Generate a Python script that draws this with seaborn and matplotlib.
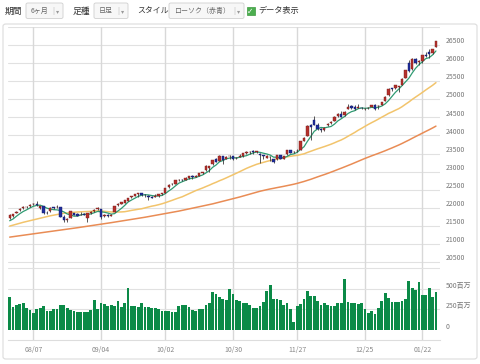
# %%
import numpy as np
import pandas as pd
import seaborn as sns
import matplotlib
matplotlib.use("Agg")
from matplotlib import pyplot as plt
from matplotlib.patches import FancyBboxPatch, Rectangle

# %% data (daily candles, 2017-07-27 .. 2018-01-26)
holidays = ["2017-09-04", "2017-11-23", "2017-12-25", "2018-01-01", "2018-01-15"]
dates = pd.bdate_range("2017-07-27", "2018-01-26")
dates = dates[~dates.isin(pd.to_datetime(holidays))]

opens = [
    21720, 21770, 21860, 21930, 21990, 22010, 22040, 22100, 22110, 21990,
    22040, 21870, 21900, 22010, 22010, 22010, 21740, 21670, 21720, 21860,
    21830, 21800, 21820, 21720, 21860, 21900, 21960, 21960, 21780, 21810,
    21780, 21890, 22080, 22110, 22140, 22200, 22290, 22340, 22380, 22400,
    22350, 22330, 22310, 22300, 22330, 22380, 22420, 22570, 22650, 22670,
    22760, 22780, 22780, 22830, 22870, 22850, 22880, 22960, 23040, 23110,
    23200, 23350, 23300, 23420, 23350, 23420, 23430, 23370, 23410, 23440,
    23520, 23540, 23570, 23540, 23500, 23450, 23390, 23400, 23340, 23340,
    23450, 23360, 23480, 23590, 23530, 23560, 23610, 23850, 23990, 24300,
    24420, 24300, 24170, 24150, 24280, 24340, 24400, 24530, 24600, 24560,
    24740, 24810, 24800, 24760, 24770, 24720, 24760, 24790, 24850, 24810,
    24850, 24960, 25110, 25310, 25310, 25330, 25400, 25600, 26000, 25830,
    26120, 26040, 26060, 26230, 26300, 26280, 26460,
]
highs = [
    21830, 21840, 21920, 21990, 22040, 22040, 22100, 22120, 22180, 22060,
    22050, 21900, 22010, 22030, 22070, 22020, 21790, 21720, 21910, 21870,
    21860, 21890, 21850, 21870, 21910, 21980, 22010, 21970, 21840, 21830,
    21840, 22060, 22120, 22160, 22210, 22270, 22340, 22380, 22420, 22410,
    22370, 22350, 22330, 22380, 22390, 22420, 22560, 22650, 22690, 22780,
    22790, 22800, 22850, 22880, 22900, 22900, 22960, 23000, 23180, 23170,
    23330, 23370, 23450, 23440, 23440, 23450, 23440, 23400, 23490, 23520,
    23560, 23560, 23600, 23570, 23510, 23470, 23450, 23420, 23350, 23470,
    23460, 23440, 23600, 23600, 23570, 23640, 23850, 23970, 24300, 24320,
    24534, 24350, 24200, 24230, 24340, 24390, 24550, 24610, 24670, 24690,
    24880, 24830, 24850, 24870, 24780, 24770, 24800, 24840, 24870, 24830,
    24940, 25100, 25300, 25320, 25400, 25380, 25580, 25810, 26086, 26150,
    26150, 26080, 26220, 26300, 26400, 26400, 26620,
]
lows = [
    21700, 21740, 21850, 21910, 21970, 21990, 22030, 22080, 22050, 21960,
    21840, 21820, 21890, 21970, 21990, 21750, 21600, 21600, 21710, 21790,
    21770, 21790, 21790, 21600, 21840, 21890, 21950, 21700, 21740, 21750,
    21770, 21880, 22060, 22100, 22120, 22180, 22280, 22320, 22300, 22330,
    22310, 22230, 22270, 22290, 22300, 22360, 22410, 22560, 22620, 22660,
    22740, 22730, 22770, 22800, 22810, 22840, 22870, 22940, 23030, 23000,
    23190, 23260, 23290, 23200, 23340, 23350, 23320, 23340, 23400, 23400,
    23490, 23500, 23500, 23510, 23250, 23360, 23370, 23300, 23240, 23330,
    23350, 23350, 23470, 23510, 23520, 23550, 23600, 23840, 23980, 23880,
    24280, 24160, 24110, 24130, 24250, 24310, 24390, 24500, 24500, 24540,
    24730, 24720, 24700, 24750, 24720, 24710, 24740, 24780, 24710, 24740,
    24840, 24950, 25100, 25230, 25290, 25200, 25390, 25590, 25760, 25800,
    25980, 25950, 26000, 26180, 26150, 26240, 26440,
]
closes = [
    21796, 21830, 21891, 21963, 22016, 22026, 22092, 22118, 22085, 22048,
    21844, 21858, 21993, 21998, 22025, 21750, 21674, 21703, 21899, 21812,
    21783, 21814, 21808, 21865, 21892, 21948, 21988, 21753, 21807, 21784,
    21798, 22057, 22118, 22158, 22203, 22268, 22331, 22370, 22412, 22359,
    22349, 22296, 22284, 22340, 22381, 22405, 22557, 22641, 22661, 22775,
    22773, 22761, 22831, 22872, 22841, 22871, 22957, 22997, 23158, 23163,
    23329, 23274, 23441, 23329, 23401, 23434, 23348, 23377, 23436, 23516,
    23539, 23548, 23557, 23563, 23462, 23422, 23440, 23409, 23271, 23458,
    23358, 23430, 23590, 23526, 23557, 23580, 23836, 23940, 24272, 24231,
    24290, 24180, 24140, 24211, 24329, 24386, 24504, 24585, 24509, 24651,
    24792, 24754, 24726, 24782, 24754, 24746, 24774, 24838, 24719, 24824,
    24922, 25075, 25296, 25283, 25385, 25369, 25574, 25803, 25792, 26116,
    26017, 26071, 26214, 26211, 26252, 26392, 26617,
]
# closes of the 4 sessions before the window (for the 5-day average)
prior_closes = [21580, 21513, 21613, 21711]

# volume, millions of shares
volumes = [
    403, 282, 302, 315, 323, 270, 242,
    210, 250, 270, 290, 230, 230, 250, 250, 300, 300, 270, 240, 230, 222, 214, 214, 222, 242, 363, 250,
    323, 315, 290, 310, 290, 355, 282, 323, 516, 290, 290, 282, 323, 282, 282, 262, 262, 254, 230,
    230, 234, 222, 222, 290, 310, 310, 282, 242, 234,
    250, 250, 300, 331, 464, 444, 403, 383, 371, 504,
    435, 371, 355, 331, 323, 302, 274, 262, 290, 343, 476, 544, 383, 383, 363, 310, 331, 250, 101,
    290, 315, 383, 476, 411, 411, 355, 310, 323, 310, 290, 290, 331, 323, 625, 343, 323, 323, 315, 323,
    250, 210, 234, 194, 262, 357, 447, 386, 345, 338, 345, 357, 374, 601, 508, 488, 581, 427, 427, 516, 399, 467,
]

# early part of the 25-day / 75-day averages
# (the rest is the rolling mean of the closes above)
ma25_early_idx = [0, 4, 8, 12, 16, 20]
ma25_early = [21495, 21600, 21690, 21780, 21850, 21885]
ma75_early_idx = [0, 10, 20, 30, 40, 50, 60, 68]
ma75_early = [21190, 21320, 21450, 21590, 21740, 21910, 22110, 22300]

tick_dates = ["2017-08-07", "2017-09-04", "2017-10-02", "2017-10-30", "2017-11-27", "2017-12-25", "2018-01-22"]
tick_labels = ["08/07", "09/04", "10/02", "10/30", "11/27", "12/25", "01/22"]
price_ticks = list(range(20500, 27000, 500))

# %%
df = pd.DataFrame({"x": np.arange(len(closes)), "open": opens, "high": highs,
                   "low": lows, "close": closes, "volume": volumes})
df["ma5"] = pd.Series(prior_closes + closes).rolling(5).mean().iloc[4:].to_numpy()
df["ma25"] = df["close"].rolling(25).mean()
df["ma75"] = df["close"].rolling(75).mean()

ma25_line = pd.concat([pd.DataFrame({"x": ma25_early_idx, "v": ma25_early}),
                       df.loc[df["ma25"].notna(), ["x", "ma25"]].rename(columns={"ma25": "v"})])
ma75_line = pd.concat([pd.DataFrame({"x": ma75_early_idx, "v": ma75_early}),
                       df.loc[df["ma75"].notna(), ["x", "ma75"]].rename(columns={"ma75": "v"})])
tick_pos = dates.searchsorted(pd.to_datetime(tick_dates))

sns.set_style("white")
plt.rcParams['font.family'] = ['Noto Sans CJK JP', 'DejaVu Sans']

W, H = 480, 364
fig = plt.figure(figsize=(4.8, 3.64), dpi=100)


def fx(x):
    return x / W


def fy(y):
    return 1 - y / H


ax = fig.add_axes([fx(8), fy(266), fx(432), 239 / H])
axv = fig.add_axes([fx(8), fy(340), fx(432), 74 / H])

RED, BLUE = "#b5312c", "#1f2d9c"
GRID = "#e1e1e1"

# price panel
for v in price_ticks + [27000]:
    ax.axhline(v, color=GRID, lw=0.8, zorder=0)
for p in tick_pos:
    ax.axvline(p, color="#d8d8d8", lw=1, zorder=0)
    axv.axvline(p, color="#d8d8d8", lw=1, zorder=0)

sns.lineplot(data=ma75_line, x="x", y="v", ax=ax, color="#e98c55", lw=1.1, zorder=2)
sns.lineplot(data=ma25_line, x="x", y="v", ax=ax, color="#f2c46c", lw=1.1, zorder=2)
sns.lineplot(data=df, x="x", y="ma5", ax=ax, color="#2f9a72", lw=0.9, zorder=2)

up = df["close"] >= df["open"]
body_lo = np.minimum(df["open"], df["close"])
body_h = np.maximum((df["close"] - df["open"]).abs(), 12)
ax.vlines(df["x"], df["low"], df["high"], color="#3a3a3a", lw=0.6, zorder=3)
ax.bar(df["x"], body_h, bottom=body_lo, width=0.7,
       color=np.where(up, RED, BLUE), edgecolor=np.where(up, "#7a1d1a", "#121a66"),
       lw=0.3, zorder=4)

ax.set_xlim(-0.5, 127.2)
ax.set_ylim(27000 - 239 * 27.65, 27000)
ax.set_xticks([])
ax.set_yticks([])
ax.set_xlabel("")
ax.set_ylabel("")
for s in ax.spines.values():
    s.set_visible(False)
for v in price_ticks:
    ax.annotate(f"{v}", xy=(1, v), xycoords=("axes fraction", "data"),
                xytext=(4, 2.8), textcoords="offset points",
                fontsize=5, color="#777777", va="center", ha="left")

# volume panel
for v in [250, 500, 750]:
    axv.axhline(v, color=GRID, lw=0.8, zorder=0)
sns.barplot(data=df, x="x", y="volume", native_scale=True, ax=axv,
            color="#0b8a47", saturation=1, width=0.82, errorbar=None, lw=0, zorder=2)
axv.set_xlim(-0.5, 127.2)
axv.set_ylim(-122, 780)
axv.set_yticks([])
axv.set_xticks(tick_pos)
axv.set_xticklabels(tick_labels, fontsize=5, color="#888888")
axv.tick_params(axis="x", length=0, pad=4.5)
axv.set_xlabel("")
axv.set_ylabel("")
for k, s in axv.spines.items():
    s.set_visible(k == "bottom")
axv.spines["bottom"].set_color("#dddddd")
axv.spines["bottom"].set_linewidth(0.8)
for v, t in [(500, "500百万"), (250, "250百万"), (0, "0")]:
    axv.annotate(t, xy=(1, v), xycoords=("axes fraction", "data"),
                 xytext=(4, 2.3), textcoords="offset points",
                 fontsize=5, color="#777777", va="center", ha="left")

# outer panel frame
fig.patches.append(FancyBboxPatch((fx(3), fy(359)), fx(474), (359 - 24) / H,
                                  boxstyle="round,pad=0,rounding_size=0.006",
                                  transform=fig.transFigure, fill=False,
                                  edgecolor="#dcdcdc", lw=0.8))


# toolbar
def label(x, s, size=6.3):
    fig.text(fx(x), fy(11), s, fontsize=size, color="#333333", va="center", ha="left")


def dropdown(x0, x1, s):
    fig.patches.append(FancyBboxPatch((fx(x0), fy(18.5)), fx(x1 - x0), 15.5 / H,
                                      boxstyle="round,pad=0,rounding_size=0.004",
                                      transform=fig.transFigure, facecolor="#f7f7f7",
                                      edgecolor="#cfcfcf", lw=0.6))
    fig.text(fx(x0 + 5), fy(11), s, fontsize=5, color="#666666", va="center", ha="left")
    fig.text(fx(x1 - 10), fy(11), "|", fontsize=5, color="#bbbbbb", va="center", ha="center")
    fig.text(fx(x1 - 5.5), fy(11), "▾", fontsize=4.5, color="#999999", va="center", ha="center")


label(5, "期間")
dropdown(26, 63, "6ヶ月")
label(73, "足種")
dropdown(94, 128, "日足")
label(137, "スタイル", size=5.7)
dropdown(169, 244, "ローソク（赤青）")
fig.patches.append(Rectangle((fx(246.5), fy(15)), fx(8), 8 / H, transform=fig.transFigure,
                             facecolor="#4cae4f", edgecolor="#3d9a40", lw=0.5))
fig.text(fx(250.5), fy(11), "✓", fontsize=5.5, color="white", va="center", ha="center",
         family=["DejaVu Sans"], weight="bold")
label(258, "データ表示", size=5.9)

fig.savefig("out.png", dpi=100)
